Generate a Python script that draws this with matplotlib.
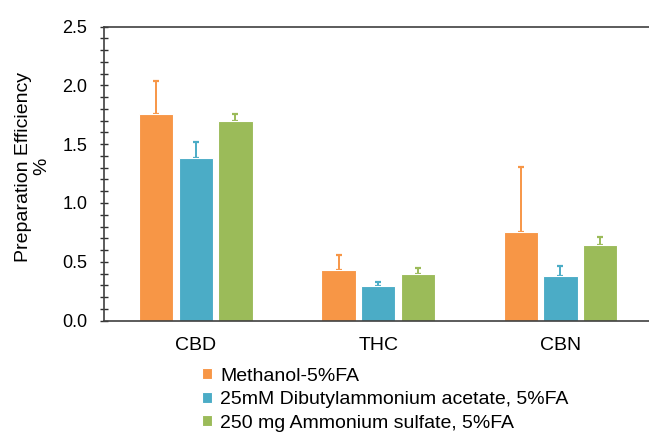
import matplotlib

matplotlib.use("Agg")
import matplotlib.pyplot as plt
import numpy as np
from matplotlib.ticker import MultipleLocator

plt.rcParams["font.family"] = ["Liberation Sans", "DejaVu Sans"]

categories = ["CBD", "THC", "CBN"]
series = ["Methanol-5%FA",
          "25mM Dibutylammonium acetate, 5%FA",
          "250 mg Ammonium sulfate, 5%FA"]
methanol = [1.76, 0.43, 0.75]
methanol_err = [0.28, 0.13, 0.56]
dba = [1.38, 0.29, 0.38]
dba_err = [0.14, 0.04, 0.08]
amsulf = [1.70, 0.40, 0.64]
amsulf_err = [0.06, 0.045, 0.07]
colors = ["#F79646", "#4BACC6", "#9BBB59"]

fig = plt.figure(figsize=(6.49, 4.44), dpi=100)
ax = fig.add_axes([0.160, 0.278, 0.840, 0.662])

x = np.arange(len(categories))
width = 0.188
offset = 0.217
for i, (vals, errs) in enumerate([(methanol, methanol_err), (dba, dba_err),
                                  (amsulf, amsulf_err)]):
    pos = x + (i - 1) * offset
    ax.bar(pos, vals, width, color=colors[i], edgecolor="white", lw=0.8,
           label=series[i], zorder=2)
    ax.errorbar(pos, vals, yerr=[np.zeros(len(vals)), errs], fmt="none",
                ecolor=colors[i], elinewidth=1.4, capsize=2.5, capthick=1.6,
                zorder=1)

ax.set_xlim(-0.505, 2.486)
ax.set_ylim(0, 2.5)
ax.yaxis.set_major_locator(MultipleLocator(0.5))
ax.yaxis.set_minor_locator(MultipleLocator(0.1))
ax.yaxis.set_major_formatter(plt.FormatStrFormatter("%.1f"))
ax.set_xticks(x)
ax.set_xticklabels(categories, fontsize=14)
ax.tick_params(axis="x", length=0, pad=12)
ax.tick_params(axis="y", which="major", direction="inout", length=6,
               width=1.0, color="#303030", labelsize=13, pad=9)
ax.tick_params(axis="y", which="minor", direction="inout", length=6,
               width=1.0, color="#303030")

for s in ["left", "top", "bottom"]:
    ax.spines[s].set_color("#404040")
    ax.spines[s].set_linewidth(1.2)
ax.spines["right"].set_visible(False)

# label anchor is the right edge of the rotated text
ax.set_ylabel("Preparation Efficiency\n%", fontsize=14, linespacing=1.05)
ax.yaxis.set_label_coords(-0.099, 0.524)

fig.legend(loc="upper left", bbox_to_anchor=(0.312, 0.1715), frameon=False,
           fontsize=14, handlelength=0.5, handleheight=0.5, handletextpad=0.4,
           labelspacing=0.33, borderpad=0, borderaxespad=0)

fig.savefig("out.png", dpi=100)
